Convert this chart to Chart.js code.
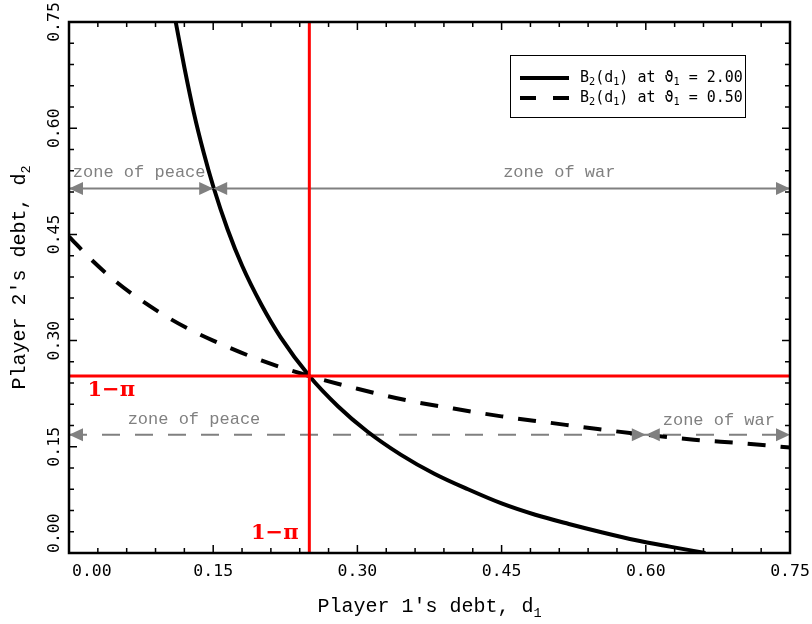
<!DOCTYPE html>
<html>
<head>
<meta charset="utf-8">
<script src="https://cdn.jsdelivr.net/npm/chart.js@4.4.0/dist/chart.umd.min.js"></script>
<style>
  html, body { margin: 0; padding: 0; background: #fff; }
  canvas { display: block; }
</style>
</head>
<body>
<canvas id="chart" width="812" height="624"></canvas>
<script>
'use strict';

// best response B2(d1) at theta1 = 2.00 (solid)
var solidX = [0.111, 0.120, 0.130, 0.140, 0.150, 0.165, 0.180, 0.200, 0.220, 0.250, 0.280,
              0.310, 0.345, 0.380, 0.415, 0.450, 0.485, 0.520, 0.555, 0.590, 0.625, 0.662];
var solidY = [0.750, 0.686, 0.621, 0.566, 0.518, 0.457, 0.406, 0.351, 0.305, 0.250, 0.207,
              0.172, 0.139, 0.112, 0.090, 0.070, 0.054, 0.041, 0.029, 0.018, 0.009, 0.000];

// best response B2(d1) at theta1 = 0.50 (dashed)
var dashX = [0.000, 0.025, 0.050, 0.075, 0.100, 0.125, 0.150, 0.200, 0.250, 0.300,
             0.350, 0.400, 0.450, 0.500, 0.550, 0.600, 0.650, 0.700, 0.750];
var dashY = [0.447, 0.412, 0.382, 0.357, 0.335, 0.316, 0.300, 0.272, 0.250, 0.232,
             0.216, 0.204, 0.193, 0.184, 0.175, 0.167, 0.160, 0.155, 0.149];

var onePi = 0.25;              // 1 - pi
var upperZone = { y: 0.515, split: 0.15 };
var lowerZone = { y: 0.167, split: 0.60 };

var xTickLabels = ['0.00', '0.15', '0.30', '0.45', '0.60', '0.75'];
var yTickLabels = ['0.00', '0.15', '0.30', '0.45', '0.60', '0.75'];
var legendLabels = ['B_2(d_1) at ϑ_1 = 2.00', 'B_2(d_1) at ϑ_1 = 0.50'];
var xTitle = "Player 1's debt, d_1";
var yTitle = "Player 2's debt, d_2";

// text annotations, anchored in data units
var zoneLabels = [
  { text: 'zone of peace', x: 0.073, y: 0.537 },
  { text: 'zone of war',   x: 0.510, y: 0.537 },
  { text: 'zone of peace', x: 0.130, y: 0.188 },
  { text: 'zone of war',   x: 0.676, y: 0.187 }
];
var piLabels = [
  { text: '1\u2212\u03c0', x: 0.044, y: 0.229 },
  { text: '1\u2212\u03c0', x: 0.214, y: 0.027 }
];

var GRAY = '#808080';
var RED = '#ff0000';

function toPts(xs, ys) {
  return xs.map(function(x, i) { return { x: x, y: ys[i] }; });
}

// draws text with "_c" meaning subscript c
function drawRich(ctx, text, x, y, size, family, measureOnly) {
  var parts = text.split('_');
  var segs = [{ t: parts[0], sub: false }];
  for (var i = 1; i < parts.length; i++) {
    segs.push({ t: parts[i].charAt(0), sub: true });
    if (parts[i].length > 1) segs.push({ t: parts[i].slice(1), sub: false });
  }
  var cx = x;
  segs.forEach(function(s) {
    var sz = s.sub ? size * 0.68 : size;
    ctx.font = sz + 'px ' + family;
    if (!measureOnly) ctx.fillText(s.t, cx, y + (s.sub ? size * 0.3 : 0));
    cx += ctx.measureText(s.t).width;
  });
  return cx - x;
}

function arrowHead(ctx, px, py, dir) {
  // tip at (px,py), dir = -1 points left, +1 points right
  var len = 14, half = 6.5;
  ctx.beginPath();
  ctx.moveTo(px, py);
  ctx.lineTo(px - dir * len, py - half);
  ctx.lineTo(px - dir * len, py + half);
  ctx.closePath();
  ctx.fill();
}

var decorPlugin = {
  id: 'decor',
  afterDatasetsDraw: function(chart) {
    var ctx = chart.ctx, xs = chart.scales.x, ys = chart.scales.y;
    ctx.save();

    // arrowheads on the zone lines
    ctx.fillStyle = GRAY;
    [upperZone, lowerZone].forEach(function(z) {
      var py = ys.getPixelForValue(z.y);
      var ps = xs.getPixelForValue(z.split);
      arrowHead(ctx, xs.getPixelForValue(xs.min), py, -1);
      arrowHead(ctx, ps, py, 1);
      arrowHead(ctx, ps, py, -1);
      arrowHead(ctx, xs.getPixelForValue(xs.max), py, 1);
    });

    // zone labels
    ctx.textAlign = 'center';
    ctx.textBaseline = 'middle';
    ctx.font = '17px "Liberation Mono"';
    zoneLabels.forEach(function(l) {
      ctx.fillText(l.text, xs.getPixelForValue(l.x), ys.getPixelForValue(l.y));
    });

    // 1 - pi labels
    ctx.fillStyle = RED;
    ctx.font = 'bold 21px "DejaVu Serif"';
    piLabels.forEach(function(l) {
      ctx.fillText(l.text, xs.getPixelForValue(l.x), ys.getPixelForValue(l.y));
    });
    ctx.restore();
  },
  afterDraw: function(chart) {
    var ctx = chart.ctx, a = chart.chartArea, xs = chart.scales.x, ys = chart.scales.y;
    ctx.save();
    ctx.strokeStyle = '#000';
    ctx.fillStyle = '#000';

    // ticks on all four sides, minor every 0.03, major every 0.15
    ctx.lineWidth = 1.5;
    ctx.beginPath();
    for (var i = 0; i <= 25; i++) {
      var v = i * 0.03;
      var len = (i % 5 === 0) ? 8 : 5;
      var px = xs.getPixelForValue(v), py = ys.getPixelForValue(v);
      ctx.moveTo(px, a.bottom); ctx.lineTo(px, a.bottom - len);
      ctx.moveTo(px, a.top); ctx.lineTo(px, a.top + len);
      ctx.moveTo(a.left, py); ctx.lineTo(a.left + len, py);
      ctx.moveTo(a.right, py); ctx.lineTo(a.right - len, py);
    }
    ctx.stroke();

    // frame
    ctx.lineWidth = 2.5;
    ctx.strokeRect(a.left, a.top, a.right - a.left, a.bottom - a.top);

    // tick labels
    ctx.font = '16.5px "DejaVu Sans Mono"';
    ctx.textBaseline = 'middle';
    xTickLabels.forEach(function(t, i) {
      var px = xs.getPixelForValue(i * 0.15);
      if (i === 0) { ctx.textAlign = 'left'; ctx.fillText(t, a.left + 3, a.bottom + 19); }
      else { ctx.textAlign = 'center'; ctx.fillText(t, px, a.bottom + 19); }
    });
    yTickLabels.forEach(function(t, i) {
      var py = ys.getPixelForValue(i * 0.15);
      ctx.save();
      ctx.translate(a.left - 14, py);
      ctx.rotate(-Math.PI / 2);
      if (i === 0) { ctx.textAlign = 'left'; ctx.fillText(t, 0, 0); }
      else { ctx.textAlign = 'center'; ctx.fillText(t, 0, 0); }
      ctx.restore();
    });

    // axis titles
    ctx.textAlign = 'left';
    var fam = '"Liberation Mono"';
    var w = drawRich(ctx, xTitle, 0, 0, 20, fam, true);
    drawRich(ctx, xTitle, (a.left + a.right) / 2 - w / 2, a.bottom + 54, 20, fam);
    ctx.save();
    ctx.translate(20, (a.top + a.bottom) / 2 - 10);
    ctx.rotate(-Math.PI / 2);
    w = drawRich(ctx, yTitle, 0, 0, 20, fam, true);
    drawRich(ctx, yTitle, -w / 2, 0, 20, fam);
    ctx.restore();

    // legend box
    var bx = a.right - 280, by = a.top + 33, bw = 235, bh = 62;
    ctx.fillStyle = '#fff';
    ctx.fillRect(bx, by, bw, bh);
    ctx.lineWidth = 1;
    ctx.strokeStyle = '#000';
    ctx.strokeRect(bx + 0.5, by + 0.5, bw, bh);
    ctx.lineWidth = 4;
    ctx.lineCap = 'butt';
    [0, 1].forEach(function(k) {
      var ly = by + 23 + k * 20;
      ctx.setLineDash(k === 0 ? [] : [16, 17]);
      ctx.beginPath();
      ctx.moveTo(bx + 10, ly); ctx.lineTo(bx + 59, ly);
      ctx.stroke();
      ctx.setLineDash([]);
      ctx.fillStyle = '#000';
      drawRich(ctx, legendLabels[k], bx + 70, ly, 15, '"DejaVu Sans Mono"');
    });
    ctx.restore();
  }
};

var chart = new Chart(document.getElementById('chart'), {
  type: 'scatter',
  data: {
    datasets: [
      { label: 'red vertical', data: [{ x: onePi, y: 0 }, { x: onePi, y: 0.75 }],
        showLine: true, borderColor: RED, borderWidth: 3, pointRadius: 0, order: 1 },
      { label: 'red horizontal', data: [{ x: 0, y: onePi }, { x: 0.75, y: onePi }],
        showLine: true, borderColor: RED, borderWidth: 3, pointRadius: 0, order: 1 },
      { label: 'theta 2.00', data: toPts(solidX, solidY),
        showLine: true, borderColor: '#000', borderWidth: 4, pointRadius: 0,
        cubicInterpolationMode: 'monotone', order: 2 },
      { label: 'theta 0.50', data: toPts(dashX, dashY),
        showLine: true, borderColor: '#000', borderWidth: 4, pointRadius: 0, borderDash: [18, 15],
        cubicInterpolationMode: 'monotone', order: 2 },
      { label: 'upper zone', data: [{ x: 0, y: upperZone.y }, { x: 0.75, y: upperZone.y }],
        showLine: true, borderColor: GRAY, borderWidth: 2, pointRadius: 0, order: 3 },
      { label: 'lower zone', data: [{ x: 0, y: lowerZone.y }, { x: 0.75, y: lowerZone.y }],
        showLine: true, borderColor: GRAY, borderWidth: 2, pointRadius: 0, borderDash: [18, 15], order: 3 }
    ]
  },
  options: {
    responsive: false,
    animation: false,
    layout: { padding: { left: 69, right: 22, top: 22, bottom: 71 } },
    plugins: { legend: { display: false }, tooltip: { enabled: false } },
    scales: {
      x: { type: 'linear', min: 0, max: 0.75, display: false },
      y: { type: 'linear', min: 0, max: 0.75, display: false }
    }
  },
  plugins: [decorPlugin]
});
</script>
</body>
</html>
